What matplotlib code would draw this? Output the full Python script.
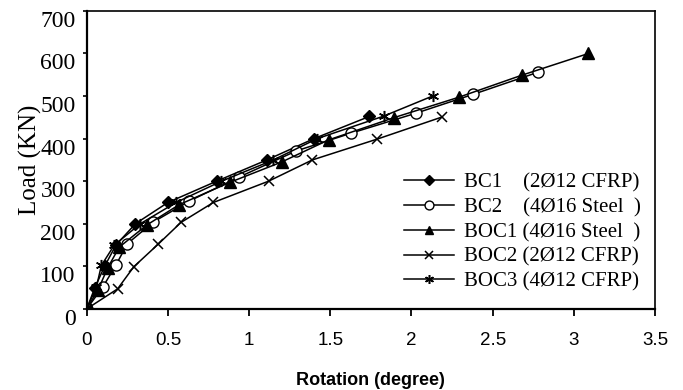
import matplotlib
matplotlib.use("Agg")
import matplotlib.pyplot as plt
from matplotlib.transforms import ScaledTranslation

# Data
bc1_x = [0, 0.05, 0.11, 0.18, 0.30, 0.50, 0.80, 1.11, 1.40, 1.74]
bc1_y = [0, 50, 100, 150, 200, 250, 300, 350, 400, 452]

bc2_x = [0, 0.10, 0.18, 0.25, 0.41, 0.63, 0.94, 1.29, 1.63, 2.03, 2.38, 2.78]
bc2_y = [0, 52, 103, 153, 204, 253, 310, 371, 413, 460, 504, 556]

boc1_x = [0, 0.07, 0.13, 0.20, 0.37, 0.57, 0.88, 1.20, 1.49, 1.89, 2.29, 2.68, 3.09]
boc1_y = [0, 45, 97, 145, 197, 245, 297, 345, 397, 449, 497, 549, 600]

boc2_x = [0, 0.19, 0.29, 0.44, 0.58, 0.78, 1.12, 1.39, 1.79, 2.19]
boc2_y = [0, 47, 99, 152, 203, 250, 300, 350, 399, 451]

boc3_x = [0, 0.06, 0.09, 0.17, 0.33, 0.55, 0.83, 1.15, 1.42, 1.83, 2.13]
boc3_y = [0, 52, 102, 150, 200, 250, 300, 350, 400, 453, 500]

labels = ["BC1    (2Ø12 CFRP)", "BC2    (4Ø16 Steel  )", "BOC1 (4Ø16 Steel  )",
          "BOC2 (2Ø12 CFRP)", "BOC3 (4Ø12 CFRP)"]

x_ticks = [0, 0.5, 1, 1.5, 2, 2.5, 3, 3.5]
x_tick_labels = ["0", "0.5", "1", "1.5", "2", "2.5", "3", "3.5"]
y_ticks = [0, 100, 200, 300, 400, 500, 600, 700]

fig = plt.figure(figsize=(6.83, 3.9), dpi=100)
ax = fig.add_axes([0.127, 0.208, 0.832, 0.764])

lw = 1.1
ax.plot(bc1_x, bc1_y, color="black", lw=lw, marker="D", ms=6, mfc="black", mec="black", label=labels[0])
ax.plot(bc2_x, bc2_y, color="black", lw=lw, marker="o", ms=8, mfc="white", mec="black", mew=1.0, label=labels[1])
ax.plot(boc1_x, boc1_y, color="black", lw=lw, marker="^", ms=8, mfc="black", mec="black", label=labels[2])
ax.plot(boc2_x, boc2_y, color="black", lw=lw, marker="x", ms=7, mew=1.1, label=labels[3])
ax.plot(boc3_x, boc3_y, color="black", lw=lw, marker=(6, 2, 0), ms=8, mew=1.1, label=labels[4])

ax.set_xlim(0, 3.5)
ax.set_ylim(0, 700)
ax.set_xticks(x_ticks)
ax.set_xticklabels(x_tick_labels, family="Liberation Sans", fontsize=13.5)
ax.set_yticks(y_ticks)
ax.set_yticklabels([str(v) for v in y_ticks], family="Liberation Serif", fontsize=17)
ax.tick_params(axis="x", direction="out", length=5, width=1.3, pad=12)
ax.tick_params(axis="y", direction="out", length=3, width=1.2, pad=5)

shift = ScaledTranslation(0, -0.08, fig.dpi_scale_trans)
for lab in ax.get_yticklabels():
    lab.set_transform(lab.get_transform() + shift)

for side in ["left", "bottom"]:
    ax.spines[side].set_linewidth(1.6)
for side in ["right", "top"]:
    ax.spines[side].set_linewidth(1.2)

ax.set_xlabel("Rotation (degree)", family="Liberation Sans", fontweight="bold", fontsize=13, labelpad=16)
ax.set_ylabel("Load (KN)", family="Liberation Serif", fontsize=18, labelpad=-1)

leg = ax.legend(loc="lower right", bbox_to_anchor=(0.99, 0.03), frameon=False,
                prop={"family": "Liberation Serif", "size": 15}, markerscale=0.8,
                handlelength=2.4, handletextpad=0.5, labelspacing=0.25, borderaxespad=0)

fig.savefig("out.png", dpi=100)
